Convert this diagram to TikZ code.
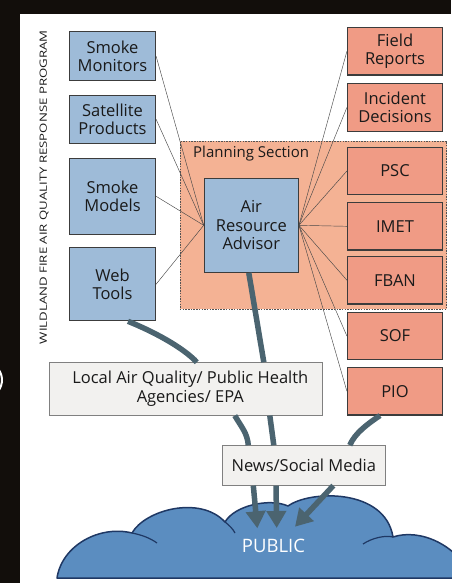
\documentclass[tikz,border=0pt]{standalone}
\usepackage{fontspec}
\setmainfont{Open Sans}
\usepackage{tikz}
\usetikzlibrary{arrows.meta}
\definecolor{frame}{HTML}{120E0B}
\definecolor{ink}{HTML}{1A1A1A}
\definecolor{srcblue}{HTML}{9EBBD8}
\definecolor{salmon}{HTML}{F09B85}
\definecolor{plan}{HTML}{F4B294}
\definecolor{paper}{HTML}{F2F1EF}
\definecolor{flow}{HTML}{4B6470}
\definecolor{cloud}{HTML}{5B8DC0}
\definecolor{cloudedge}{HTML}{1F3864}
\tikzset{
  boxtxt/.style={font=\fontsize{16.5}{18.5}\selectfont, text=ink, align=center, inner sep=0pt},
  src/.style={boxtxt, draw=ink!85, fill=srcblue, line width=1.2pt, minimum width=86pt},
  team/.style={boxtxt, draw=ink!85, fill=salmon, line width=1.2pt, minimum width=95pt, minimum height=47.5pt},
  agency/.style={boxtxt, draw=gray, fill=paper, line width=1.1pt},
  planbox/.style={draw=ink!75, fill=plan, line width=0.6pt, dash pattern=on 1.5pt off 1.2pt},
  link/.style={draw=ink!80, line width=0.45pt},
  flowline/.style={draw=flow, line width=5.5pt},
  flowarrow/.style={flowline, -{Triangle[length=17pt,width=19pt]}},
}
\begin{document}
\begin{tikzpicture}[x=1pt, y=-1pt]
  \useasboundingbox (0,0) rectangle (451,583);
  \fill[frame] (0,0) rectangle (451,14);
  \fill[frame] (0,0) rectangle (20,583);
  \draw[white, line width=2pt] (-16,380) ++(-60:18) arc[start angle=-60, end angle=60, radius=18];
  \node[rotate=90, font=\fontsize{10}{11}\selectfont, text=ink, inner sep=0pt] (title) at (44,187.3) {\scalebox{1.32}[1]{WILDLAND FIRE AIR QUALITY RESPONSE PROGRAM}};

  \node[planbox, minimum width=266.7pt, minimum height=168pt] (plan) at (313.3,225) {};
  \node[boxtxt, font=\fontsize{15}{17}\selectfont, anchor=base west] (plantitle) at (193,157.5) {Planning Section};

  \node[src, minimum height=49pt] (smon) at (112.5,56.2) {Smoke\\Monitors};
  \node[src, minimum height=48pt] (satp) at (112.5,119.3) {Satellite\\Products};
  \node[src, minimum height=76pt] (smod) at (112.5,196.3) {Smoke\\Models};
  \node[src, minimum height=73pt] (wtools) at (112.5,284.2) {Web\\Tools};
  \node[src, minimum width=94pt, minimum height=94pt] (ara) at (251.3,225.3) {Air\\Resource\\Advisor};

  \node[team] (field) at (395,51.3) {Field\\Reports};
  \node[team] (incid) at (395,107.5) {Incident\\Decisions};
  \node[team] (psc) at (395,171) {PSC};
  \node[team] (imet) at (395,226.3) {IMET};
  \node[team] (fban) at (395,280.2) {FBAN};
  \node[team] (sof) at (395,336) {SOF};
  \node[team] (pio) at (395,391.2) {PIO};

  \node[agency, minimum width=273.5pt, minimum height=52.3pt] (local) at (185.8,388.9) {\hspace*{9pt}Local Air Quality/ Public Health\\\hspace*{9pt}Agencies/ EPA};
  \node[agency, minimum width=163pt, minimum height=39.3pt] (news) at (303.8,465.4) {News/Social Media};

  \foreach \s in {smon,satp,smod,wtools}
    \draw[link] (\s.east) -- (ara.west);
  \foreach \t in {field,incid,psc,imet,fban,sof,pio}
    \draw[link] (ara.east) -- (\t.west);

  \draw[flowline] ([xshift=15.5pt]wtools.south) .. controls +(25,10) and +(-14,-15) .. ([xshift=11pt]local.north);
  \draw[flowline] ([xshift=-2.5pt]ara.south) -- ([xshift=78pt]local.north);
  \draw[flowline] ([xshift=49pt]local.south) .. controls +(7,12) and +(-1,-12) .. ([xshift=-55.5pt]news.north);
  \draw[flowline] ([xshift=84pt]local.south) -- ([xshift=-30pt]news.north);
  \draw[flowline] ([xshift=-15pt]pio.south) .. controls +(-12,8) and +(5,-12) .. ([xshift=46pt]news.north);

  \filldraw[fill=cloud, draw=cloudedge, line width=1.5pt, line join=round]
    (57,578) .. controls (62,545) and (100,525) .. (132,533)
    .. controls (145,510) and (200,495) .. (225,522)
    .. controls (235,505) and (270,498) .. (288,506)
    .. controls (310,490) and (385,488) .. (393,537)
    .. controls (420,528) and (458,545) .. (472,578) -- cycle;
  \draw[cloudedge, line width=1.2pt] (132,533) .. controls (142,535) and (150,538) .. (157,543);
  \draw[cloudedge, line width=1.2pt] (225,522) .. controls (229,525) and (233,529) .. (235,533);
  \draw[cloudedge, line width=1.2pt] (363,544) .. controls (372,538) and (385,535) .. (393,537);
  \node[font=\fontsize{18.5}{20}\selectfont, text=white, inner sep=0pt] (public) at (273.5,546.3) {PUBLIC};

  \coordinate (tipA) at (257.3,528.3);
  \coordinate (tipB) at (276.7,528);
  \coordinate (tipC) at (295,526.7);
  \draw[flowarrow] ([xshift=-50.5pt]news.south) -- (tipA);
  \draw[flowarrow] ([xshift=-27.8pt]news.south) -- (tipB);
  \draw[flowarrow] ([xshift=29.5pt]news.south) -- (tipC);
\end{tikzpicture}
\end{document}
